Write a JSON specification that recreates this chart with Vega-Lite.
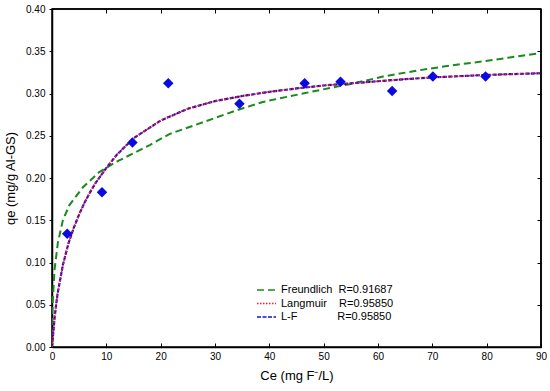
{
  "$schema": "https://vega.github.io/schema/vega-lite/v6.json",
  "width": 489,
  "height": 338,
  "autosize": "none",
  "padding": {"left": 52, "top": 9, "right": 9, "bottom": 44},
  "background": "white",
  "config": {
    "view": {"stroke": "black", "strokeWidth": 1.5},
    "font": "Liberation Sans",
    "axis": {
      "labelFont": "Liberation Sans",
      "titleFont": "Liberation Sans",
      "labelFontSize": 10,
      "titleFontSize": 13,
      "titleFontWeight": "normal",
      "labelColor": "black",
      "titleColor": "black",
      "domainColor": "black",
      "domainWidth": 1.5,
      "tickColor": "black",
      "tickWidth": 1,
      "labelFlush": false,
      "grid": false
    },
    "legend": {
      "labelFont": "Liberation Sans",
      "labelFontSize": 11,
      "labelColor": "black"
    }
  },
  "resolve": {"axis": {"x": "independent", "y": "independent"}},
  "datasets": {
    "curves": [
      {"series": "Freundlich", "C": 0, "q": 0},
      {"series": "Freundlich", "C": 0.05, "q": 0.035},
      {"series": "Freundlich", "C": 0.15, "q": 0.055},
      {"series": "Freundlich", "C": 0.46, "q": 0.091},
      {"series": "Freundlich", "C": 1.07, "q": 0.123},
      {"series": "Freundlich", "C": 2.0, "q": 0.150},
      {"series": "Freundlich", "C": 3.2, "q": 0.168},
      {"series": "Freundlich", "C": 5.7, "q": 0.189},
      {"series": "Freundlich", "C": 8.7, "q": 0.207},
      {"series": "Freundlich", "C": 11.8, "q": 0.219},
      {"series": "Freundlich", "C": 14.9, "q": 0.229},
      {"series": "Freundlich", "C": 18.0, "q": 0.239},
      {"series": "Freundlich", "C": 21.6, "q": 0.252},
      {"series": "Freundlich", "C": 27.8, "q": 0.266},
      {"series": "Freundlich", "C": 33.9, "q": 0.280},
      {"series": "Freundlich", "C": 38.8, "q": 0.290},
      {"series": "Freundlich", "C": 46.2, "q": 0.300},
      {"series": "Freundlich", "C": 52.3, "q": 0.308},
      {"series": "Freundlich", "C": 54.8, "q": 0.311},
      {"series": "Freundlich", "C": 60.9, "q": 0.320},
      {"series": "Freundlich", "C": 67.1, "q": 0.327},
      {"series": "Freundlich", "C": 73.2, "q": 0.333},
      {"series": "Freundlich", "C": 79.3, "q": 0.338},
      {"series": "Freundlich", "C": 90, "q": 0.348},
      {"series": "L-F", "C": 0, "q": 0},
      {"series": "L-F", "C": 0.5, "q": 0.036},
      {"series": "L-F", "C": 1, "q": 0.062},
      {"series": "L-F", "C": 2, "q": 0.097},
      {"series": "L-F", "C": 3, "q": 0.122},
      {"series": "L-F", "C": 4, "q": 0.141},
      {"series": "L-F", "C": 5, "q": 0.157},
      {"series": "L-F", "C": 6, "q": 0.171},
      {"series": "L-F", "C": 7, "q": 0.183},
      {"series": "L-F", "C": 8, "q": 0.194},
      {"series": "L-F", "C": 10, "q": 0.212},
      {"series": "L-F", "C": 12, "q": 0.228},
      {"series": "L-F", "C": 15, "q": 0.247},
      {"series": "L-F", "C": 20, "q": 0.268},
      {"series": "L-F", "C": 25, "q": 0.282},
      {"series": "L-F", "C": 30, "q": 0.291},
      {"series": "L-F", "C": 35, "q": 0.297},
      {"series": "L-F", "C": 40, "q": 0.302},
      {"series": "L-F", "C": 45, "q": 0.306},
      {"series": "L-F", "C": 50, "q": 0.3095},
      {"series": "L-F", "C": 55, "q": 0.312},
      {"series": "L-F", "C": 60, "q": 0.3145},
      {"series": "L-F", "C": 65, "q": 0.317},
      {"series": "L-F", "C": 70, "q": 0.319},
      {"series": "L-F", "C": 75, "q": 0.3205},
      {"series": "L-F", "C": 80, "q": 0.322},
      {"series": "L-F", "C": 85, "q": 0.323},
      {"series": "L-F", "C": 90, "q": 0.324},
      {"series": "Langmuir", "C": 0, "q": 0},
      {"series": "Langmuir", "C": 0.5, "q": 0.036},
      {"series": "Langmuir", "C": 1, "q": 0.062},
      {"series": "Langmuir", "C": 2, "q": 0.097},
      {"series": "Langmuir", "C": 3, "q": 0.122},
      {"series": "Langmuir", "C": 4, "q": 0.141},
      {"series": "Langmuir", "C": 5, "q": 0.157},
      {"series": "Langmuir", "C": 6, "q": 0.171},
      {"series": "Langmuir", "C": 7, "q": 0.183},
      {"series": "Langmuir", "C": 8, "q": 0.194},
      {"series": "Langmuir", "C": 10, "q": 0.212},
      {"series": "Langmuir", "C": 12, "q": 0.228},
      {"series": "Langmuir", "C": 15, "q": 0.247},
      {"series": "Langmuir", "C": 20, "q": 0.268},
      {"series": "Langmuir", "C": 25, "q": 0.282},
      {"series": "Langmuir", "C": 30, "q": 0.291},
      {"series": "Langmuir", "C": 35, "q": 0.297},
      {"series": "Langmuir", "C": 40, "q": 0.302},
      {"series": "Langmuir", "C": 45, "q": 0.306},
      {"series": "Langmuir", "C": 50, "q": 0.3095},
      {"series": "Langmuir", "C": 55, "q": 0.312},
      {"series": "Langmuir", "C": 60, "q": 0.3145},
      {"series": "Langmuir", "C": 65, "q": 0.317},
      {"series": "Langmuir", "C": 70, "q": 0.319},
      {"series": "Langmuir", "C": 75, "q": 0.3205},
      {"series": "Langmuir", "C": 80, "q": 0.322},
      {"series": "Langmuir", "C": 85, "q": 0.323},
      {"series": "Langmuir", "C": 90, "q": 0.324}
    ],
    "points": [
      {"C": 2.8, "q": 0.134},
      {"C": 9.2, "q": 0.183},
      {"C": 14.8, "q": 0.242},
      {"C": 21.4, "q": 0.312},
      {"C": 34.5, "q": 0.288},
      {"C": 46.5, "q": 0.312},
      {"C": 53.1, "q": 0.314},
      {"C": 62.6, "q": 0.303},
      {"C": 70.1, "q": 0.320},
      {"C": 79.8, "q": 0.320}
    ]
  },
  "layer": [
    {
      "data": {"name": "curves"},
      "transform": [{"filter": "datum.series === 'Freundlich'"}],
      "mark": {"type": "line", "strokeWidth": 2, "clip": true},
      "encoding": {
        "x": {"field": "C", "type": "quantitative",
          "scale": {"domain": [0, 90], "nice": false, "zero": false},
          "axis": {"orient": "bottom", "values": [0,10,20,30,40,50,60,70,80,90], "tickSize": -4, "labelPadding": 8, "title": "Ce (mg F\u207b/L)", "titlePadding": 8}},
        "y": {"field": "q", "type": "quantitative",
          "scale": {"domain": [0, 0.4], "nice": false, "zero": false},
          "axis": {"orient": "left", "values": [0,0.05,0.1,0.15,0.2,0.25,0.3,0.35,0.4], "format": ".2f", "tickSize": 3, "labelPadding": 4, "title": "qe (mg/g Al-GS)", "titlePadding": 8}},
        "color": {"field": "series", "type": "nominal",
          "scale": {"domain": ["Freundlich", "Langmuir", "L-F"], "range": ["#1a8a1a", "#ff1a1a", "#1010e0"]},
          "legend": {"orient": "none", "legendX": 204, "legendY": 275, "title": null, "symbolType": "M-1,0H2.8", "symbolSize": 100, "symbolStrokeWidth": 1.5, "labelOffset": 13, "rowPadding": 2.5, "padding": 0,
            "labelExpr": "datum.label === 'Freundlich' ? 'Freundlich\u00a0\u00a0R=0.91687' : datum.label === 'Langmuir' ? 'Langmuir\u00a0\u00a0\u00a0\u00a0R=0.95850' : 'L-F\u00a0\u00a0\u00a0\u00a0\u00a0\u00a0\u00a0\u00a0\u00a0\u00a0\u00a0\u00a0\u00a0R=0.95850'"}},
        "strokeDash": {"field": "series", "type": "nominal",
          "scale": {"domain": ["Freundlich", "Langmuir", "L-F"], "range": [[7, 4], [1.5, 1.5], [4, 1.5]]},
          "legend": null}
      }
    },
    {
      "data": {"name": "curves"},
      "transform": [{"filter": "datum.series === 'L-F'"}],
      "mark": {"type": "line", "strokeWidth": 2.2, "clip": true},
      "encoding": {
        "x": {"field": "C", "type": "quantitative", "axis": null},
        "y": {"field": "q", "type": "quantitative", "axis": null},
        "color": {"field": "series", "type": "nominal"},
        "strokeDash": {"field": "series", "type": "nominal"}
      }
    },
    {
      "data": {"name": "curves"},
      "transform": [{"filter": "datum.series === 'Langmuir'"}],
      "mark": {"type": "line", "strokeWidth": 1.6, "clip": true},
      "encoding": {
        "x": {"field": "C", "type": "quantitative", "axis": null},
        "y": {"field": "q", "type": "quantitative", "axis": null},
        "color": {"field": "series", "type": "nominal"},
        "strokeDash": {"field": "series", "type": "nominal"}
      }
    },
    {
      "data": {"name": "points"},
      "mark": {"type": "point", "shape": "diamond", "filled": true, "size": 110, "color": "#0a0ae0", "opacity": 1},
      "encoding": {
        "x": {"field": "C", "type": "quantitative",
          "axis": {"orient": "top", "values": [0,10,20,30,40,50,60,70,80,90], "labels": false, "domain": false, "ticks": true, "tickSize": -4, "title": ""}},
        "y": {"field": "q", "type": "quantitative",
          "axis": {"orient": "right", "values": [0,0.05,0.1,0.15,0.2,0.25,0.3,0.35,0.4], "labels": false, "domain": false, "ticks": true, "tickSize": -4, "title": ""}}
      }
    },
    {
      "data": {"values": [{}]},
      "mark": {"type": "rule", "color": "black", "strokeWidth": 1.5},
      "encoding": {"y": {"datum": 0.4, "type": "quantitative", "axis": null}}
    },
    {
      "data": {"values": [{}]},
      "mark": {"type": "rule", "color": "black", "strokeWidth": 1.5},
      "encoding": {"x": {"datum": 90, "type": "quantitative", "axis": null}}
    }
  ]
}
